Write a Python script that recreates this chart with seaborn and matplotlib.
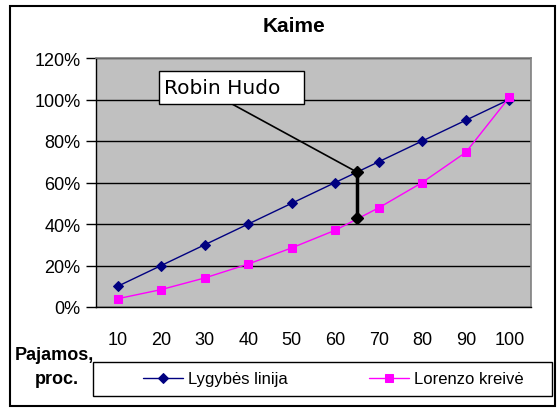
import matplotlib.pyplot as plt
import seaborn as sns
import pandas as pd
from matplotlib.patches import Rectangle

# data
pajamos = [10, 20, 30, 40, 50, 60, 70, 80, 90, 100]
lygybes = [10, 20, 30, 40, 50, 60, 70, 80, 90, 100]
lorenzo = [4, 8.4, 14, 20.7, 28.5, 37, 47.8, 60, 74.5, 101]
robin_x = [65, 65]
robin_y = [65, 43]
y_ticks = [0, 20, 40, 60, 80, 100, 120]

df = pd.DataFrame({"x": pajamos, "Lygybės linija": lygybes, "Lorenzo kreivė": lorenzo})

sns.set_theme(style='white', rc={"axes.unicode_minus": False, "text.color": "black",
                                 "xtick.color": "black", "ytick.color": "black",
                                 "axes.labelcolor": "black"})
plt.rcParams['font.family'] = ['Liberation Sans', 'DejaVu Sans']

W, H = 559, 410
f = plt.figure(figsize=(W / 100, H / 100), dpi=100)
ax = f.add_axes([96 / W, 1 - 308 / H, (531 - 96) / W, (308 - 59) / H])
ax.set_facecolor('#C0C0C0')

sns.lineplot(data=df, x="x", y="Lygybės linija", ax=ax, color='#000080', marker='D',
             markersize=5.5, markeredgecolor='#000080', linewidth=1, label="Lygybės linija")
sns.lineplot(data=df, x="x", y="Lorenzo kreivė", ax=ax, color='#FF00FF', marker='s',
             markersize=5.5, markeredgecolor='#FF00FF', linewidth=1, label="Lorenzo kreivė")
ax.plot(robin_x, robin_y, color='black', linewidth=2.5, marker='D', markersize=6, zorder=5)

handles, labels = ax.get_legend_handles_labels()
ax.get_legend().remove()

ax.set_xlim(5, 105)
ax.set_ylim(0, 120)
ax.set_xticks(pajamos)
ax.set_xticklabels([str(v) for v in pajamos])
ax.set_xticks([v - 5 for v in pajamos] + [105], minor=True)
ax.tick_params(axis='x', which='major', length=0, pad=17, labelsize=13)
ax.tick_params(axis='x', which='minor', length=6, width=1, direction='out', color='black')
ax.set_yticks(y_ticks)
ax.set_yticklabels([f"{v}%" for v in y_ticks])
ax.tick_params(axis='y', length=7, width=1, direction='out', pad=4, labelsize=13, left=True)
ax.yaxis.grid(True, color='black', linewidth=1)
ax.set_axisbelow(True)
ax.set_xlabel("")
ax.set_ylabel("")
for s in ['top', 'right']:
    ax.spines[s].set_color('#808080')
    ax.spines[s].set_linewidth(1.2)
for s in ['left', 'bottom']:
    ax.spines[s].set_color('black')
    ax.spines[s].set_linewidth(1)

# Robin Hudo callout
ax.add_patch(Rectangle((159 / W, 1 - 105 / H), 145 / W, 33 / H, transform=f.transFigure,
                       facecolor='white', edgecolor='black', linewidth=1, zorder=6))
f.text(164 / W, 1 - 89 / H, "Robin Hudo", fontsize=14.5, family=['DejaVu Sans'],
       ha='left', va='center', zorder=7)
ax.annotate("", xy=(robin_x[0], robin_y[0]), xytext=(232 / W, 1 - 105 / H),
            textcoords='figure fraction',
            arrowprops=dict(arrowstyle='-', color='black', linewidth=1.2,
                            shrinkA=0, shrinkB=0))

f.text(294 / W, 1 - 26 / H, "Kaime", fontsize=15, fontweight='bold', ha='center', va='center')
f.text(54 / W, 1 - 356 / H, "Pajamos,", fontsize=13, fontweight='bold', ha='center', va='center')
f.text(57 / W, 1 - 380 / H, "proc.", fontsize=13, fontweight='bold', ha='center', va='center')

# legend
f.patches.append(Rectangle((93 / W, 1 - 397 / H), 459 / W, 34 / H, transform=f.transFigure,
                           facecolor='white', edgecolor='black', linewidth=1))
f.legend(handles, labels, loc='center left', bbox_to_anchor=(128 / W, 1 - 380 / H),
         ncol=2, frameon=False, fontsize=12, handlelength=2.4, handletextpad=0.3,
         columnspacing=4.9)

# outer border
f.patches.append(Rectangle((10 / W, 1 - 407 / H), 545 / W, 400 / H, transform=f.transFigure,
                           facecolor='none', edgecolor='black', linewidth=1.5))

f.savefig("out.png", dpi=100)
